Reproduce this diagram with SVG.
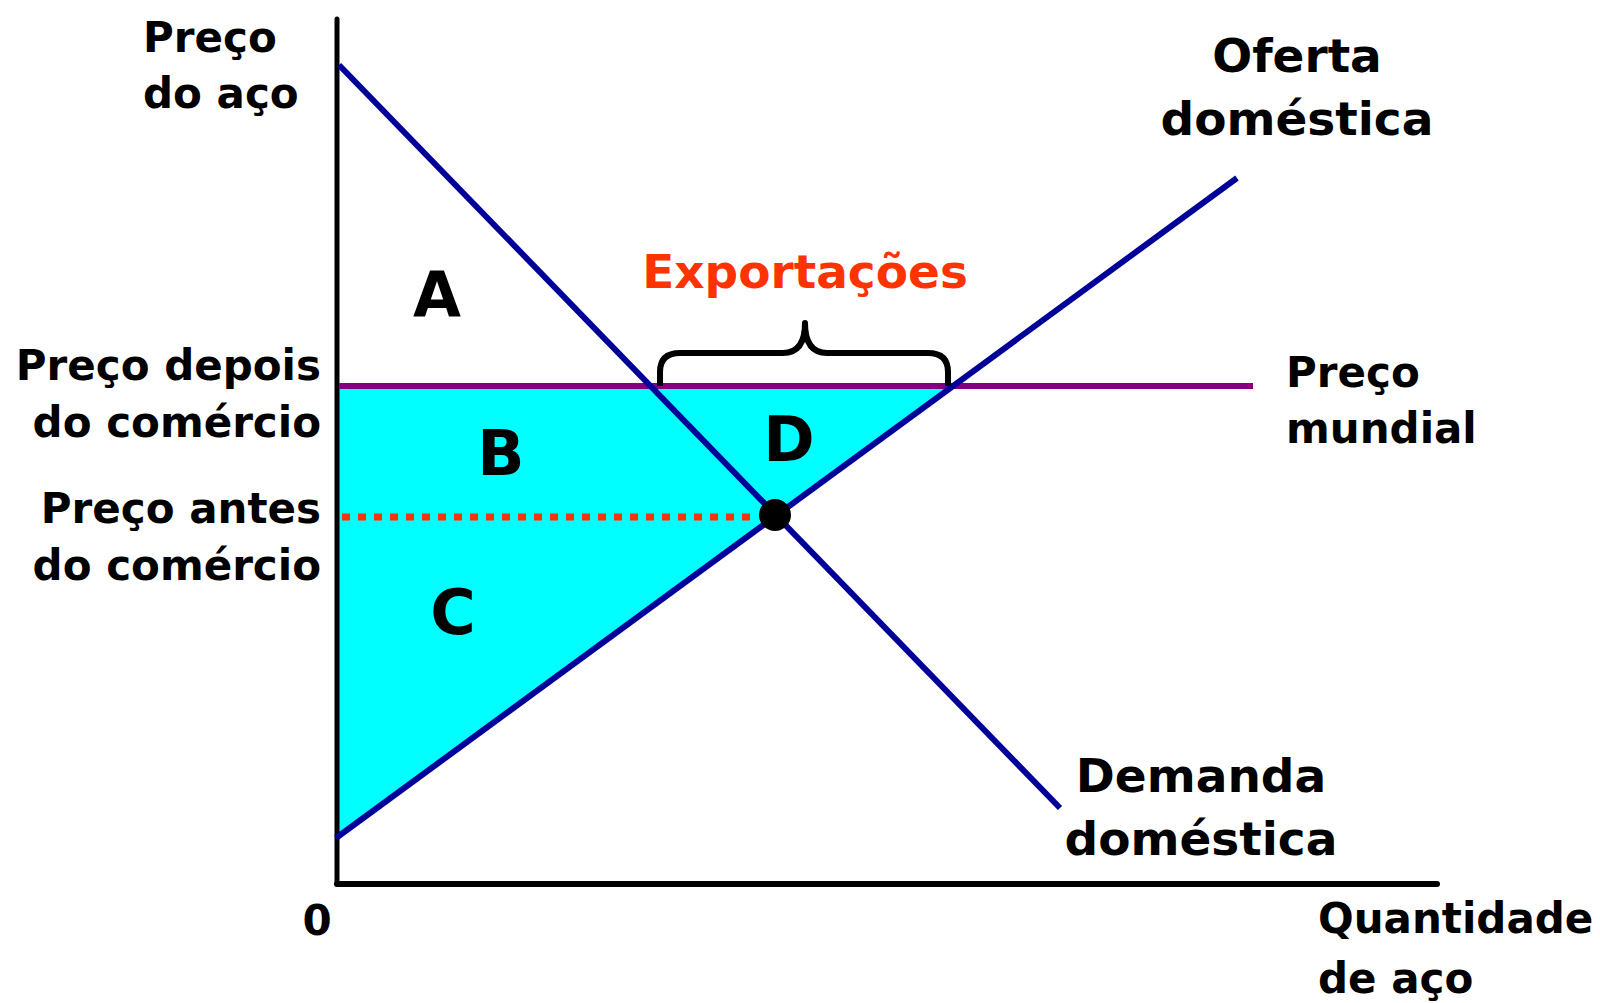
<svg xmlns="http://www.w3.org/2000/svg" width="1600" height="1003" viewBox="0 0 1600 1003">
<style>
text{font-family:"DejaVu Sans","Verdana",sans-serif;font-weight:bold;fill:#000}
.ax{font-size:42px}
.big{font-size:47px}
.area{font-size:62px;text-anchor:middle}
.curve{stroke:#000099;stroke-width:6;fill:none}
.axis{stroke:#000;fill:none;stroke-linecap:round}
</style>
<rect width="1600" height="1003" fill="#fff"/>
<g id="surplus-area">
<polygon points="339,386 953,386 339,836" fill="#00FFFF"/>
</g>
<g id="connectors">
<line class="axis" x1="337" y1="19" x2="337" y2="884" stroke-width="5"/>
<line class="axis" x1="337" y1="884" x2="1437" y2="884" stroke-width="6"/>
<line id="pre-trade-price" x1="342" y1="517" x2="758" y2="517" stroke="#FF3300" stroke-width="7" stroke-dasharray="8 8"/>
<line id="world-price" x1="339" y1="386" x2="1253" y2="386" stroke="#800080" stroke-width="6"/>
<line id="demand" class="curve" x1="339" y1="65" x2="1060" y2="808"/>
<line id="supply" class="curve" x1="336" y1="838" x2="1237" y2="178"/>
<path id="exports-brace" d="M660 386 L660 372 Q660 353 680 353 L783 353 Q805 353 805 323 Q805 353 827 353 L928 353 Q948 353 948 372 L948 386" fill="none" stroke="#000" stroke-width="6" stroke-linejoin="round"/>
<circle id="equilibrium" cx="775" cy="515" r="16" fill="#000"/>
</g>
<g id="y-axis-label"><text class="ax" x="143" y="52">Preço</text><text class="ax" x="143" y="108">do aço</text></g>
<g id="price-after-label"><text class="ax" x="321" y="380" text-anchor="end">Preço depois</text><text class="ax" x="321" y="437" text-anchor="end">do comércio</text></g>
<g id="price-before-label"><text class="ax" x="321" y="523" text-anchor="end">Preço antes</text><text class="ax" x="321" y="580" text-anchor="end">do comércio</text></g>
<g id="origin-label"><text class="ax" x="317" y="935" text-anchor="middle">0</text></g>
<g id="x-axis-label"><text class="ax" x="1318" y="933">Quantidade</text><text class="ax" x="1318" y="993">de aço</text></g>
<g id="supply-label"><text class="big" x="1297" y="72" text-anchor="middle">Oferta</text><text class="big" x="1297" y="135" text-anchor="middle">doméstica</text></g>
<g id="world-price-label"><text class="ax" x="1286" y="387">Preço</text><text class="ax" x="1286" y="443">mundial</text></g>
<g id="demand-label"><text class="big" x="1201" y="792" text-anchor="middle">Demanda</text><text class="big" x="1201" y="855" text-anchor="middle">doméstica</text></g>
<g id="exports-label"><text class="big" x="805" y="288" text-anchor="middle" style="fill:#FF3300">Exportações</text></g>
<g id="area-A"><text class="area" x="437" y="316">A</text></g>
<g id="area-B"><text class="area" x="501" y="475">B</text></g>
<g id="area-C"><text class="area" x="453" y="634">C</text></g>
<g id="area-D"><text class="area" x="789" y="461">D</text></g>
</svg>
